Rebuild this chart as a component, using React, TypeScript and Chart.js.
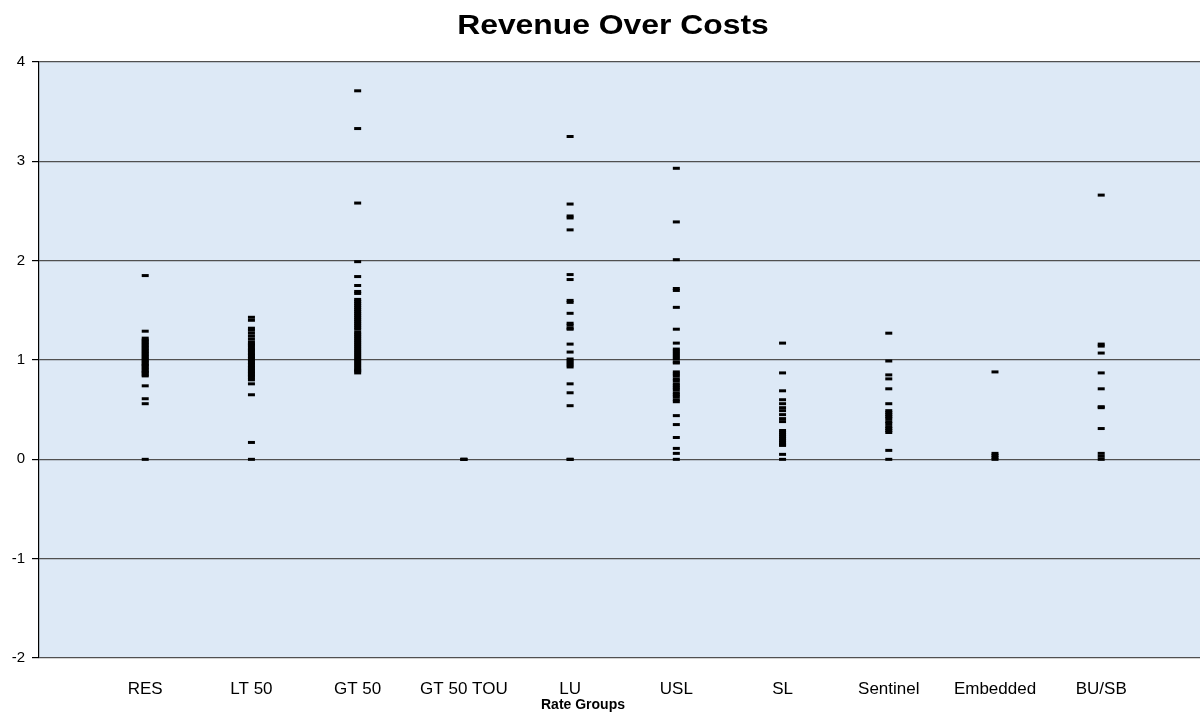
import React, { useEffect, useRef } from "react";
import { Chart, registerables } from "chart.js";

Chart.register(...registerables);

const categories = ["RES", "LT 50", "GT 50", "GT 50 TOU", "LU", "USL", "SL", "Sentinel", "Embedded", "BU/SB"];

const resValues = [1.85, 1.29, 1.22, 1.2, 1.19, 1.17, 1.16, 1.14, 1.13, 1.11, 1.1, 1.08, 1.07, 1.05, 1.04, 1.02, 1.01, 0.99, 0.98, 0.96, 0.95, 0.94, 0.92, 0.91, 0.89, 0.88, 0.87, 0.85, 0.84, 0.74, 0.61, 0.56, 0.0];
const lt50Values = [1.43, 1.4, 1.32, 1.3, 1.27, 1.24, 1.21, 1.18, 1.16, 1.15, 1.13, 1.11, 1.1, 1.08, 1.06, 1.05, 1.03, 1.02, 1.0, 0.99, 0.97, 0.96, 0.94, 0.93, 0.91, 0.9, 0.88, 0.87, 0.85, 0.84, 0.82, 0.8, 0.76, 0.65, 0.17, 0.0];
const gt50Values = [3.71, 3.33, 2.58, 1.99, 1.84, 1.75, 1.69, 1.67, 1.61, 1.59, 1.57, 1.55, 1.53, 1.51, 1.49, 1.47, 1.45, 1.43, 1.41, 1.39, 1.37, 1.35, 1.33, 1.31, 1.28, 1.26, 1.24, 1.22, 1.2, 1.18, 1.16, 1.14, 1.12, 1.1, 1.08, 1.06, 1.04, 1.02, 1.0, 0.98, 0.96, 0.94, 0.92, 0.9, 0.89, 0.87];
const gt50TouValues = [0.0, 0.0, 0.0];
const luValues = [3.25, 2.57, 2.45, 2.43, 2.31, 1.86, 1.81, 1.6, 1.58, 1.47, 1.37, 1.35, 1.32, 1.31, 1.16, 1.08, 1.01, 0.99, 0.97, 0.95, 0.93, 0.76, 0.67, 0.54, 0.0, 0.0];
const uslValues = [2.93, 2.39, 2.01, 1.72, 1.7, 1.53, 1.31, 1.17, 1.11, 1.09, 1.07, 1.05, 1.03, 1.01, 0.98, 0.97, 0.88, 0.86, 0.84, 0.81, 0.79, 0.76, 0.74, 0.72, 0.7, 0.67, 0.65, 0.63, 0.6, 0.58, 0.44, 0.35, 0.22, 0.11, 0.06, 0.0];
const slValues = [1.17, 0.87, 0.69, 0.6, 0.56, 0.52, 0.49, 0.45, 0.41, 0.38, 0.29, 0.27, 0.25, 0.23, 0.21, 0.19, 0.17, 0.15, 0.14, 0.05, 0.0];
const sentinelValues = [1.27, 0.99, 0.85, 0.81, 0.71, 0.56, 0.49, 0.47, 0.45, 0.43, 0.41, 0.38, 0.36, 0.33, 0.31, 0.29, 0.27, 0.09, 0.0];
const embeddedValues = [0.88, 0.06, 0.04, 0.02, 0.0];
const busbValues = [2.66, 1.16, 1.14, 1.07, 0.87, 0.71, 0.53, 0.52, 0.31, 0.06, 0.03, 0.0];

const seriesValues = [resValues, lt50Values, gt50Values, gt50TouValues, luValues, uslValues, slValues, sentinelValues, embeddedValues, busbValues];

const yTicks = [-2, -1, 0, 1, 2, 3, 4];

const chartTitle = "Revenue Over Costs";
const xAxisTitle = "Rate Groups";

const FONT = "'Liberation Sans', Arial, sans-serif";

const bgPlugin = {
  id: "plotBg",
  beforeDraw(chart: any) {
    const { ctx, chartArea } = chart;
    ctx.save();
    ctx.fillStyle = "#dde9f6";
    ctx.fillRect(chartArea.left, chartArea.top, chartArea.right - chartArea.left, chartArea.bottom - chartArea.top);
    ctx.restore();
  },
};

const textPlugin = {
  id: "texts",
  afterDraw(chart: any) {
    const { ctx } = chart;
    ctx.save();
    ctx.fillStyle = "#000";
    ctx.textAlign = "center";
    ctx.textBaseline = "middle";
    ctx.save();
    ctx.translate(613, 27);
    ctx.scale(1.18, 1);
    ctx.font = `bold 27px ${FONT}`;
    ctx.fillText(chartTitle, 0, 0);
    ctx.restore();
    ctx.font = `bold 14px ${FONT}`;
    ctx.fillText(xAxisTitle, 583, 705);
    ctx.restore();
  },
};

export default function App() {
  const ref = useRef<HTMLCanvasElement>(null);
  useEffect(() => {
    document.body.style.margin = "0";
    const datasets = seriesValues.map((vals, i) => ({
      label: categories[i],
      data: vals.map((v) => ({ x: i + 1, y: v })),
      showLine: false,
      pointStyle: "line" as const,
      pointRadius: 3.5,
      pointBorderWidth: 3,
      borderColor: "#000",
      backgroundColor: "#000",
    }));
    const chart = new Chart(ref.current!, {
      type: "scatter",
      data: { datasets },
      plugins: [bgPlugin, textPlugin],
      options: {
        animation: false,
        responsive: false,
        layout: { autoPadding: false, padding: { top: 62, right: 0, left: 0, bottom: 0 } },
        plugins: { legend: { display: false }, tooltip: { enabled: false }, title: { display: false } },
        scales: {
          x: {
            type: "linear",
            min: 0,
            max: 10.93,
            afterBuildTicks(scale: any) {
              scale.ticks = categories.map((_, i) => ({ value: i + 1 }));
            },
            afterFit(scale: any) {
              scale.height = 57;
            },
            ticks: {
              autoSkip: false,
              maxRotation: 0,
              padding: 21,
              color: "#000",
              font: { family: FONT, size: 17 },
              callback: (v: any) => categories[Number(v) - 1] ?? "",
            },
            grid: { display: true, drawOnChartArea: false, drawTicks: false },
            border: { display: false },
          },
          y: {
            type: "linear",
            min: -2,
            max: 4,
            afterBuildTicks(scale: any) {
              scale.ticks = yTicks.map((v) => ({ value: v }));
            },
            afterFit(scale: any) {
              scale.width = 39;
            },
            ticks: {
              padding: 7,
              color: "#000",
              font: { family: FONT, size: 15 },
            },
            grid: { color: "#505050", lineWidth: 1.2, tickLength: 7, tickColor: "#000" },
            border: { display: true, color: "#000", width: 1.2 },
          },
        },
      },
    });
    return () => chart.destroy();
  }, []);
  return <canvas ref={ref} width={1200} height={715} style={{ display: "block" }} />;
}
